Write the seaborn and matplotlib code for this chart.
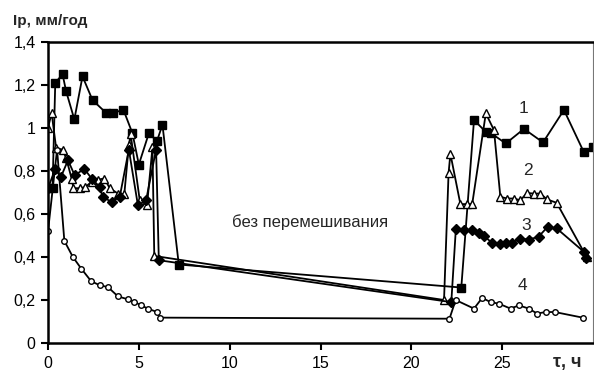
import matplotlib
matplotlib.use("Agg")
import matplotlib.pyplot as plt
import seaborn as sns
import pandas as pd

# ---- data ----
t1 = [0.0, 0.25, 0.4, 0.8, 1.0, 1.45, 1.9, 2.45, 3.2, 3.6, 4.15, 4.65, 5.0, 5.55, 6.0, 6.3, 7.2,
      22.75, 23.45, 24.1, 24.4, 25.2, 26.2, 27.25, 28.4, 29.5, 30.0]
ip1 = [0.72, 0.72, 1.21, 1.25, 1.17, 1.04, 1.24, 1.13, 1.07, 1.07, 1.085, 0.975, 0.83, 0.975, 0.94, 1.015, 0.365,
       0.258, 1.037, 0.982, 0.975, 0.928, 0.996, 0.933, 1.084, 0.887, 0.91]

t2 = [0.0, 0.2, 0.45, 0.8, 1.0, 1.3, 1.4, 1.75, 2.05, 2.4, 2.75, 3.1, 3.4, 3.85, 4.2, 4.45, 4.55, 5.05, 5.45, 5.75, 5.85,
      21.8, 22.05, 22.15, 22.7, 23.05, 23.35, 24.1, 24.55, 24.9, 25.27, 25.64, 26.0, 26.37, 26.74, 27.1, 27.47, 28.0, 29.65]
ip2 = [1.0, 1.07, 0.905, 0.9, 0.86, 0.765, 0.72, 0.72, 0.725, 0.75, 0.76, 0.765, 0.72, 0.695, 0.692, 0.92, 0.97, 0.664, 0.64, 0.91, 0.405,
       0.2, 0.79, 0.88, 0.646, 0.646, 0.646, 1.068, 0.99, 0.68, 0.672, 0.672, 0.664, 0.698, 0.695, 0.695, 0.668, 0.652, 0.40]

t3 = [0.0, 0.4, 0.7, 1.1, 1.47, 2.0, 2.4, 2.85, 3.0, 3.5, 3.95, 4.45, 4.95, 5.4, 5.95, 6.1,
      22.2, 22.45, 22.9, 23.35, 23.7, 24.0, 24.45, 24.9, 25.2, 25.55, 26.0, 26.45, 27.0, 27.5, 28.0, 29.5, 29.6]
ip3 = [0.72, 0.81, 0.77, 0.85, 0.78, 0.81, 0.765, 0.725, 0.68, 0.656, 0.68, 0.9, 0.64, 0.664, 0.9, 0.385,
       0.19, 0.53, 0.525, 0.525, 0.51, 0.497, 0.466, 0.46, 0.463, 0.466, 0.486, 0.481, 0.494, 0.54, 0.533, 0.424, 0.397]

t4 = [0.0, 0.5, 0.9, 1.37, 1.83, 2.38, 2.84, 3.3, 3.85, 4.4, 4.76, 5.13, 5.5, 6.0, 6.14,
      22.1, 22.44, 23.45, 23.9, 24.36, 24.82, 25.46, 25.92, 26.47, 26.92, 27.4, 27.9, 29.43]
ip4 = [0.52, 0.9, 0.475, 0.40, 0.346, 0.287, 0.269, 0.26, 0.217, 0.203, 0.191, 0.175, 0.16, 0.144, 0.118,
       0.113, 0.2, 0.16, 0.21, 0.19, 0.183, 0.16, 0.175, 0.16, 0.137, 0.144, 0.144, 0.118]

series_names = ["1", "2", "3", "4"]
x_ticks = [0, 5, 10, 15, 20, 25]
y_ticks = [0, 0.2, 0.4, 0.6, 0.8, 1.0, 1.2, 1.4]
y_ticklabels = ["0", "0,2", "0,4", "0,6", "0,8", "1", "1,2", "1,4"]
label_pos = {"1": (26.2, 1.09), "2": (26.4, 0.804), "3": (26.3, 0.548), "4": (26.1, 0.269)}

sns.set_style("ticks")
plt.rcParams['font.family'] = ['Liberation Sans', 'DejaVu Sans']

fig = plt.figure(figsize=(5.94, 3.75), dpi=100)
ax = fig.add_axes([48 / 594, 32 / 375, 545 / 594, 301 / 375])

styles = {
    "1": dict(marker="s", markersize=5.5, markerfacecolor="black"),
    "2": dict(marker="^", markersize=5.2, markerfacecolor="white"),
    "3": dict(marker="D", markersize=4.6, markerfacecolor="black"),
    "4": dict(marker="o", markersize=4.0, markerfacecolor="white"),
}
data = {"1": (t1, ip1), "2": (t2, ip2), "3": (t3, ip3), "4": (t4, ip4)}

for name in series_names:
    tx, iy = data[name]
    df = pd.DataFrame({"t": tx, "ip": iy})
    sns.lineplot(data=df, x="t", y="ip", ax=ax, color="black", linewidth=1.3,
                 sort=False, estimator=None, markeredgecolor="black",
                 markeredgewidth=1.0, **styles[name])

for name, (lx, ly) in label_pos.items():
    ax.text(lx, ly, name, fontsize=12.5, ha="center", va="center")

ax.text(14.4, 0.562, "без перемешивания", fontsize=12, ha="center", va="center")

ax.set_xlim(0, 30)
ax.set_ylim(0, 1.4)
ax.set_xticks(x_ticks)
ax.set_xticklabels([str(v) for v in x_ticks], fontsize=11.5)
ax.set_yticks(y_ticks)
ax.set_yticklabels(y_ticklabels, fontsize=11.5)
ax.tick_params(direction="out", length=5, width=1.5, colors="black", pad=4)
ax.set_xlabel("")
ax.set_ylabel("")

for side in ["left", "bottom", "top"]:
    ax.spines[side].set_visible(True)
    ax.spines[side].set_linewidth(1.8)
    ax.spines[side].set_color("black")
ax.spines["right"].set_visible(True)
ax.spines["right"].set_linewidth(0.8)
ax.spines["right"].set_color("#777777")

fig.text(13 / 594, 1 - 21 / 375, "Ip, мм/год", fontsize=11, fontweight="bold", ha="left", va="center")
fig.text(553 / 594, 1 - 362 / 375, "τ, ч", fontsize=13, fontweight="bold", ha="left", va="center")

fig.savefig("out.png", dpi=100)
